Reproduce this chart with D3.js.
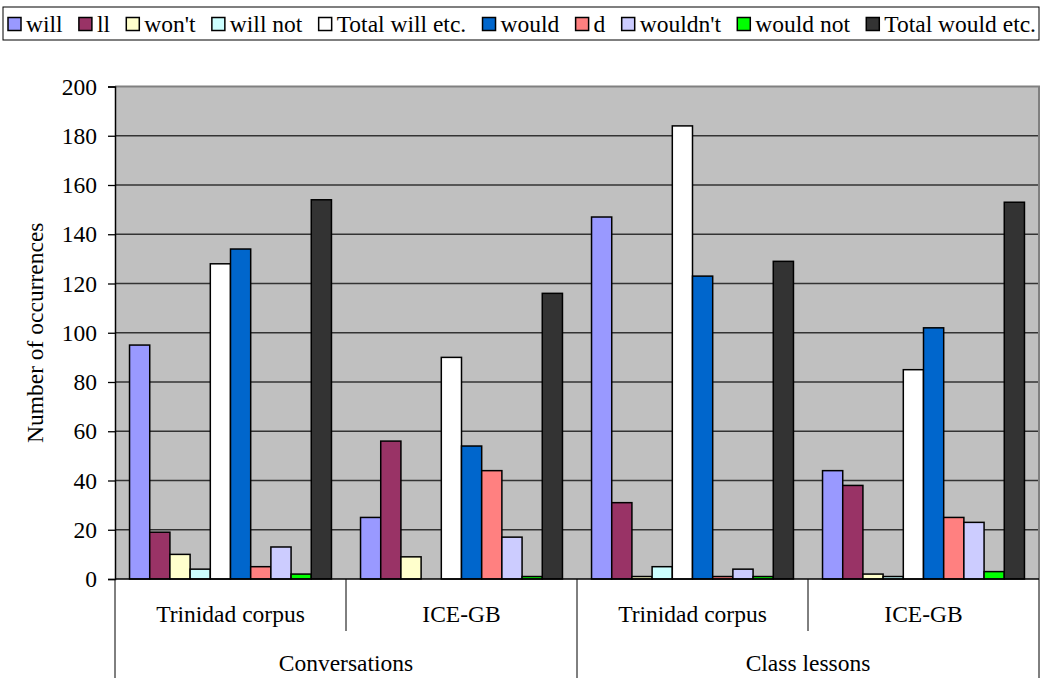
<!DOCTYPE html>
<html>
<head>
<meta charset="utf-8">
<script src="https://cdn.jsdelivr.net/npm/d3@7"></script>
<style>
  html, body { margin: 0; padding: 0; background: #fff; }
  svg { display: block; }
</style>
</head>
<body>
<svg id="chart" width="1043" height="678"></svg>
<script>
// Group labels along the x axis (two levels)
const contexts = ["Conversations", "Class lessons"];
const corpora = ["Trinidad corpus", "ICE-GB", "Trinidad corpus", "ICE-GB"];

// Series names and fills
const seriesNames = ["will", "ll", "won't", "will not", "Total will etc.",
                     "would", "d", "wouldn't", "would not", "Total would etc."];
const seriesColors = ["#9999FF", "#993366", "#FFFFCC", "#CCFFFF", "#FFFFFF",
                      "#0066CC", "#FF8080", "#CCCCFF", "#00FF00", "#333333"];

// Counts per group: Conv/Trinidad, Conv/ICE-GB, Class/Trinidad, Class/ICE-GB
const will        = [95, 25, 147, 44];
const ll          = [19, 56, 31, 38];
const wont        = [10, 9, 1, 2];
const willNot     = [4, 0, 5, 1];
const totalWill   = [128, 90, 184, 85];
const would       = [134, 54, 123, 102];
const d           = [5, 44, 1, 25];
const wouldnt     = [13, 17, 4, 23];
const wouldNot    = [2, 1, 1, 3];
const totalWould  = [154, 116, 129, 153];

const yTicks = [0, 20, 40, 60, 80, 100, 120, 140, 160, 180, 200];

const seriesValues = [will, ll, wont, willNot, totalWill,
                      would, d, wouldnt, wouldNot, totalWould];

const FONT = '"Liberation Serif", "Times New Roman", Times, serif';
const FS = 23.5;
const svg = d3.select("#chart");
const plot = { left: 115, right: 1039, top: 86.5, bottom: 579 };

const groupIdx = d3.range(corpora.length);
const x0 = d3.scaleBand().domain(groupIdx).range([plot.left, plot.right]).padding(0);
const x1 = d3.scaleBand().domain(d3.range(seriesNames.length))
  .range([0, x0.bandwidth()]).paddingInner(0).paddingOuter(0.72);
const y = d3.scaleLinear().domain([0, 200]).range([plot.bottom, plot.top]);

// Plot background
svg.append("rect")
  .attr("x", plot.left).attr("y", plot.top)
  .attr("width", plot.right - plot.left).attr("height", plot.bottom - plot.top)
  .attr("fill", "#C0C0C0");

// Gridlines
svg.append("g").selectAll("line")
  .data(yTicks.filter(t => t > 0 && t < 200))
  .join("line")
  .attr("x1", plot.left).attr("x2", plot.right)
  .attr("y1", t => y(t)).attr("y2", t => y(t))
  .attr("stroke", "#333").attr("stroke-width", 1.3);

// Plot border (top and right)
svg.append("path")
  .attr("d", `M${plot.left},${plot.top}H${plot.right}V${plot.bottom}`)
  .attr("fill", "none").attr("stroke", "#808080").attr("stroke-width", 2);

// Bars
const barData = [];
seriesValues.forEach((vals, s) => vals.forEach((v, g) => barData.push({ s, g, v })));
svg.append("g").selectAll("rect")
  .data(barData.filter(b => b.v > 0))
  .join("rect")
  .attr("x", b => x0(b.g) + x1(b.s))
  .attr("width", x1.bandwidth())
  .attr("y", b => y(b.v))
  .attr("height", b => y(0) - y(b.v))
  .attr("fill", b => seriesColors[b.s])
  .attr("stroke", "#000").attr("stroke-width", 1.5);

// Y axis
const yAxis = svg.append("g")
  .attr("transform", `translate(${plot.left},0)`)
  .call(d3.axisLeft(y).tickValues(yTicks).tickSize(7).tickPadding(11).tickFormat(d3.format("d")));
yAxis.attr("font-family", FONT).attr("font-size", FS);
yAxis.select(".domain").attr("stroke", "#000").attr("stroke-width", 1.5);
yAxis.selectAll(".tick line").attr("stroke", "#000").attr("stroke-width", 1.3);
yAxis.selectAll("text").attr("fill", "#000");

// X axis baseline
svg.append("line")
  .attr("x1", plot.left).attr("x2", plot.right)
  .attr("y1", plot.bottom).attr("y2", plot.bottom)
  .attr("stroke", "#000").attr("stroke-width", 1.5);

// Category dividers: inner ones stop below corpus labels, outer ones run to the bottom
const bounds = d3.range(corpora.length + 1).map(i =>
  i < corpora.length ? x0(i) : x0(corpora.length - 1) + x0.bandwidth());
svg.append("g").selectAll("line")
  .data(bounds)
  .join("line")
  .attr("x1", b => b).attr("x2", b => b)
  .attr("y1", plot.bottom)
  .attr("y2", (b, i) => (i % 2 === 0 ? 678 : 631))
  .attr("stroke", "#000").attr("stroke-width", 1);

// Corpus labels
svg.append("g").selectAll("text")
  .data(corpora)
  .join("text")
  .attr("x", (c, i) => x0(i) + x0.bandwidth() / 2)
  .attr("y", 622)
  .attr("text-anchor", "middle")
  .attr("font-family", FONT).attr("font-size", FS)
  .text(c => c);

// Context labels
svg.append("g").selectAll("text")
  .data(contexts)
  .join("text")
  .attr("x", (c, i) => (x0(i * 2) + x0(i * 2 + 1) + x0.bandwidth()) / 2)
  .attr("y", 671)
  .attr("text-anchor", "middle")
  .attr("font-family", FONT).attr("font-size", FS)
  .text(c => c);

// Y axis title
svg.append("text")
  .attr("transform", `translate(43,${(plot.top + plot.bottom) / 2}) rotate(-90)`)
  .attr("text-anchor", "middle")
  .attr("font-family", FONT).attr("font-size", FS)
  .text("Number of occurrences");

// Legend: entries laid out left to right, spread to fill the frame
const legend = svg.append("g");
legend.append("rect")
  .attr("x", 3).attr("y", 7).attr("width", 1036).attr("height", 33)
  .attr("fill", "#fff").attr("stroke", "#000").attr("stroke-width", 1);
const sw = 13, swGap = 5, lStart = 8, lEnd = 1036, ly = 24;
const items = seriesNames.map((name, i) => {
  const t = legend.append("text")
    .attr("y", ly + 8)
    .attr("font-family", FONT).attr("font-size", FS)
    .text(name);
  return { i, t, w: t.node().getComputedTextLength() };
});
const used = d3.sum(items, it => sw + swGap + it.w);
const itemGap = (lEnd - lStart - used) / (items.length - 1);
let lx = lStart;
items.forEach(it => {
  legend.append("rect")
    .attr("x", lx).attr("y", ly - 6.5).attr("width", sw).attr("height", sw)
    .attr("fill", seriesColors[it.i]).attr("stroke", "#000").attr("stroke-width", 1.5);
  it.t.attr("x", lx + sw + swGap);
  lx += sw + swGap + it.w + itemGap;
});
</script>
</body>
</html>
